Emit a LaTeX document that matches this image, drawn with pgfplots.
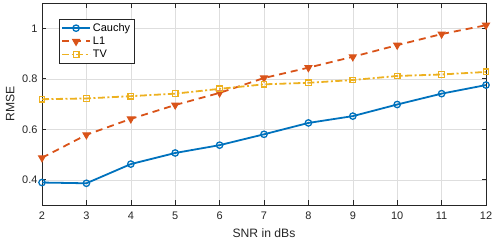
\documentclass[border=0pt]{standalone}
\usepackage{pgfplots}
\pgfplotsset{compat=1.18}
\usepackage{fontspec}
\setmainfont{Liberation Sans}
\definecolor{mblue}{rgb}{0,0.447,0.741}
\definecolor{morange}{rgb}{0.85,0.325,0.098}
\definecolor{myellow}{rgb}{0.929,0.694,0.125}
\definecolor{axgray}{rgb}{0.15,0.15,0.15}
\begin{document}
\begin{tikzpicture}
\begin{axis}[
  scale only axis, width=444bp, height=202bp,
  xmin=2, xmax=12, ymin=0.3, ymax=1.1,
  xtick={2,...,12}, ytick={0.4,0.6,0.8,1},
  yticklabels={0.4,0.6,0.8,1},
  /pgf/number format/assume math mode=true,
  font=\fontsize{11}{13}\selectfont,
  tick label style={font=\fontsize{11}{13}\selectfont, color=axgray},
  xticklabel style={yshift=-3.5pt},
  yticklabel style={xshift=-1pt},
  label style={font=\fontsize{12.2}{14}\selectfont, color=axgray},
  xlabel={SNR in dBs}, ylabel={RMSE},
  xlabel style={yshift=-2pt}, ylabel style={yshift=1pt},
  grid=major, major grid style={color=black!13, line width=0.5pt},
  axis line style={color=axgray, line width=0.6pt},
  tick style={color=axgray, line width=0.6pt}, tick align=inside, major tick length=4.5bp,
  legend style={at={(0.038,0.92)}, anchor=north west, draw=axgray, line width=0.6pt,
    font=\fontsize{11}{13}\selectfont, inner sep=2pt, row sep=0pt},
  legend cell align=left,
  legend image code/.code={\draw[mark repeat=2,mark phase=2,#1] plot coordinates {(0bp,0bp) (14bp,0bp) (28bp,0bp)};},
]
\addplot[color=mblue, line width=1.8pt, mark=o, mark size=3.2bp, mark options={solid, line width=1.3pt}] coordinates {
(2,0.389) (3,0.386) (4,0.462) (5,0.506) (6,0.537) (7,0.580) (8,0.625) (9,0.652) (10,0.698) (11,0.741) (12,0.775)};
\addlegendentry{Cauchy}
\addplot[color=morange, line width=1.8pt, dash pattern=on 7bp off 5bp, mark=triangle*, mark size=4bp, mark options={solid, rotate=180, fill=morange, line width=1pt}] coordinates {
(2,0.487) (3,0.578) (4,0.641) (5,0.696) (6,0.744) (7,0.803) (8,0.844) (9,0.887) (10,0.933) (11,0.977) (12,1.012)};
\addlegendentry{L1}
\addplot[color=myellow, line width=1.8pt, dash pattern=on 7bp off 2.5bp on 2bp off 2.5bp, mark=square, mark size=2.8bp, mark options={solid, line width=1.3pt}] coordinates {
(2,0.719) (3,0.722) (4,0.731) (5,0.741) (6,0.760) (7,0.778) (8,0.784) (9,0.795) (10,0.811) (11,0.817) (12,0.827)};
\addlegendentry{TV}
\end{axis}
\pgfresetboundingbox
\path (-42bp,-35bp) rectangle (456bp,205bp);
\end{tikzpicture}
\end{document}
